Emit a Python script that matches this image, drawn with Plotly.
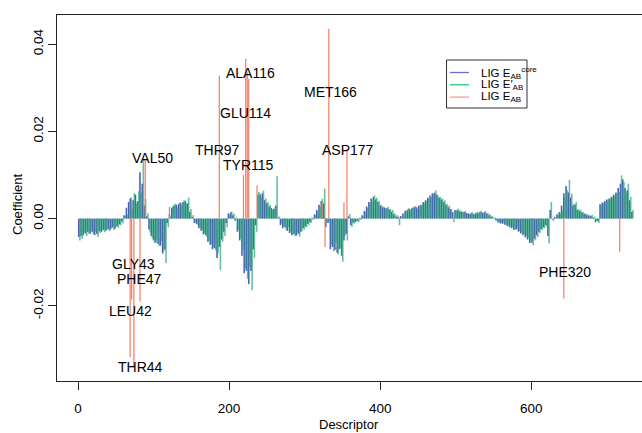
import numpy as np
import plotly.graph_objects as go

# descriptor positions of the sampled bars (every 3rd descriptor)
descriptors = list(range(1, 734, 3))

# coefficients in units of 1e-3
core_milli = [
    -4.2, -4.0, -3.8, -3.4, -3.0, -3.4, -3.1, -3.8, -3.5, -2.9,
    -3.0, -2.6, -2.8, -2.4, -2.5, -2.0, -2.3, -1.7, -1.3, -0.6,
    0.8, 2.5, 3.8, 4.8, 4.2, 5.5, 4.0, 10.6, 8.0, 3.0,
    0.5, -2.5, -4.0, -5.0, -5.5, -5.8, -6.2, -8.0, -7.0, -1.0,
    1.0, 2.5, 3.0, 3.2, 3.3, 3.6, 3.8, 4.0, 3.5, 1.5,
    0.4, -1.0, -1.2, -2.2, -2.8, -3.6, -3.8, -5.3, -6.0, -7.0,
    -6.8, -9.0, -6.5, -4.8, -3.0, -1.0, 1.2, 1.4, 0.8, -0.5,
    -3.0, -5.0, -8.5, -12.5, -12.0, -15.0, -12.0, -7.0, -1.5, 5.5,
    5.6, 5.8, 4.2, 3.5, 2.8, 2.4, 2.2, 3.0, 0.2, -1.5,
    -2.2, -2.0, -2.8, -3.3, -3.8, -3.6, -3.9, -3.5, -3.0, -2.2,
    -1.8, -1.2, -0.8, 0.2, 1.0, 2.0, 3.2, 4.0, 3.5, -2.0,
    -1.0, -7.0, -6.5, -7.2, -7.8, -7.0, -8.5, -5.0, -3.5, 0.5,
    -1.5, -0.9, -0.8, -0.5, 0.2, 0.8, 1.8, 2.8, 3.8, 4.6,
    5.0, 4.4, 3.8, 3.0, 2.6, 2.5, 2.4, 2.1, 1.6, 1.0,
    0.5, 0.4, 0.6, 1.2, 1.8, 2.0, 2.2, 2.4, 2.6, 2.6,
    3.0, 3.2, 3.8, 4.2, 4.8, 5.3, 5.8, 5.9, 5.5, 4.8,
    4.4, 3.8, 3.2, 2.6, 2.2, 1.5, 2.0, 2.0, 1.7, 1.5,
    1.5, 1.3, 1.2, 1.2, 1.1, 1.2, 1.4, 1.5, 1.4, 1.5,
    1.1, 0.8, 0.4, 0.1, -0.4, -0.9, -1.1, -1.2, -1.4, -1.7,
    -2.0, -2.2, -2.6, -2.5, -3.0, -3.4, -3.8, -4.3, -4.8, -5.6,
    -5.5, -4.6, -3.8, -3.0, -2.4, -2.0, -1.5, -4.0, 2.0, -0.2,
    0.4, 1.0, 1.5, 3.0, 5.8, 7.5, 6.0, 4.8, 3.0, 3.2,
    2.0, 1.7, 1.4, 1.1, 0.9, 0.7, 0.6, 0.2, -0.8, -0.6,
    3.3, 3.7, 4.0, 4.4, 4.6, 5.0, 5.5, 6.0, 7.0, 8.0,
    9.0, 7.0, 6.5, 4.2, 1.5,
]

prime_milli = [
    -5.0, -4.6, -3.2, -4.0, -3.5, -2.8, -3.6, -3.0, -4.2, -3.3,
    -2.7, -3.1, -2.5, -2.9, -2.2, -2.6, -1.9, -2.1, -1.5, -1.1,
    0.6, 1.0, 4.5, 2.2, 5.8, 3.5, 6.3, 6.0, 13.4, 4.5,
    1.2, -3.2, -4.5, -5.6, -4.8, -6.3, -5.2, -7.5, -10.2, -2.0,
    0.5, 2.8, 3.4, 2.6, 3.7, 3.0, 4.2, 3.5, 4.8, 2.2,
    0.8, -0.8, -1.5, -2.0, -2.5, -3.3, -4.2, -5.0, -5.8, -6.6,
    -7.3, -8.0, -11.8, -5.3, -4.0, -2.0, 0.8, 1.6, 1.2, 0.3,
    -2.5, -4.5, -7.0, -11.5, -13.8, -11.0, -16.4, -9.0, -3.0, 6.1,
    5.0, 6.4, 4.6, 3.8, 3.2, 2.0, 2.6, 9.7, 0.5, -1.2,
    -1.8, -2.5, -2.0, -3.0, -3.5, -4.0, -3.2, -4.1, -2.8, -2.5,
    -2.0, -1.5, -1.0, -0.3, 0.8, 1.5, 2.7, 4.6, 6.9, -1.0,
    -0.5, -6.0, -7.5, -5.5, -8.2, -6.8, -9.9, -4.0, -5.0, 1.1,
    -1.9, -1.2, -0.6, -0.8, -0.3, 0.5, 1.5, 2.4, 3.4, 4.0,
    5.3, 4.8, 4.1, 3.2, 2.8, 2.4, 2.7, 2.2, 2.0, 1.2,
    0.8, -1.5, 0.3, 0.8, 1.5, 2.4, 1.8, 2.6, 2.9, 2.2,
    2.8, 3.0, 3.5, 4.0, 4.5, 5.0, 5.6, 6.5, 5.2, 5.0,
    4.6, 4.2, 3.4, 3.0, 2.0, -0.8, 1.8, 2.3, 1.9, 1.6,
    1.8, 1.2, 1.0, 1.5, 0.9, 1.4, 1.0, 1.8, 1.2, 1.7,
    1.3, 1.0, 0.6, 0.3, -0.5, -0.7, -1.0, -0.8, -1.3, -1.5,
    -1.8, -2.0, -2.4, -2.2, -2.8, -3.1, -3.5, -3.9, -4.5, -5.2,
    -6.1, -5.0, -4.2, -3.3, -2.6, -2.2, -1.8, -5.7, 3.8, -0.5,
    0.2, 0.8, 1.2, 2.0, 5.0, 6.5, 8.9, 5.7, 3.4, 3.8,
    2.2, 2.0, 1.5, 1.2, 1.0, 0.8, 0.9, 0.5, -0.5, -1.0,
    3.1, 3.5, 3.9, 4.2, 4.5, 4.8, 5.2, 5.8, 6.1, 9.9,
    8.4, 6.0, 8.0, 5.0, 2.0,
]

# LIG E_AB: only a few non-zero descriptors
eab_desc = [69, 71, 74, 82, 89, 121, 187, 219, 222, 224, 226, 237,
            323, 327, 332, 352, 356, 643, 717]
eab_coef = [-0.0317, -0.0185, -0.0341, -0.0190, 0.0135, 0.0027, 0.0328,
            0.0100, 0.0366, 0.0335, 0.0320, 0.0076, 0.0035, -0.0065,
            0.0435, 0.0037, 0.0160, -0.0183, -0.0076]

residue_labels = ["VAL50", "GLY43", "PHE47", "LEU42", "THR44", "THR97",
                  "ALA116", "GLU114", "TYR115", "MET166", "ASP177", "PHE320"]
label_desc = [99, 73, 82, 69, 83, 185, 228, 222, 225, 334, 357, 645]
label_coef = [0.0138, -0.0105, -0.0139, -0.0212, -0.0341, 0.0157,
              0.0333, 0.0243, 0.0124, 0.0290, 0.0157, -0.0123]

series_names = ["LIG E<sub>AB</sub><sup>core</sup>", "LIG E\u2032<sub>AB</sub>", "LIG E<sub>AB</sub>"]
series_colors = ["#4d62b4", "#27a877", "#f47c62"]
legend_colors = ["#6e6ecf", "#2fc07a", "#f7a08a"]

x_ticks = [0, 200, 400, 600]
y_ticks = [-0.02, 0.0, 0.02, 0.04]
y_ticktext = ["-0.02", "0.00", "0.02", "0.04"]

W, H = 642, 433
ml, mr, mt, mb = 57, 0, 15, 52
pw, ph = W - ml - mr, H - mt - mb


def px2paper(xp, yp):
    return (xp - ml) / pw, (H - mb - yp) / ph


def spikes(xs, ys):
    px, py = [], []
    for x, y in zip(xs, ys):
        px += [x, x, None]
        py += [0, y, None]
    return px, py


core_vals = [v * 1e-3 for v in core_milli]
prime_vals = [v * 1e-3 for v in prime_milli]

fig = go.Figure()
bx, by = spikes(descriptors, core_vals)
fig.add_trace(go.Scatter(x=bx, y=by, mode="lines", line=dict(color=series_colors[0], width=1.6),
                         name=series_names[0], showlegend=False))
gx, gy = spikes([d + 1.5 for d in descriptors], prime_vals)
fig.add_trace(go.Scatter(x=gx, y=gy, mode="lines", line=dict(color=series_colors[1], width=1.6),
                         opacity=0.7, name=series_names[1], showlegend=False))
rx, ry = spikes(eab_desc, eab_coef)
fig.add_trace(go.Scatter(x=rx, y=ry, mode="lines", line=dict(color=series_colors[2], width=1.2),
                         name=series_names[2], showlegend=False))

for lab, xd, yd in zip(residue_labels, label_desc, label_coef):
    fig.add_annotation(x=xd, y=yd, text=lab, showarrow=False,
                       font=dict(size=14, color="black"))

# axis titles
tx, ty = px2paper(17, 204)
fig.add_annotation(x=tx, y=ty, xref="paper", yref="paper", text="Coefficient",
                   showarrow=False, textangle=-90, xanchor="center", yanchor="middle",
                   font=dict(size=13, color="black"))
tx, ty = px2paper(349, 425)
fig.add_annotation(x=tx, y=ty, xref="paper", yref="paper", text="Descriptor",
                   showarrow=False, xanchor="center", yanchor="middle",
                   font=dict(size=13, color="black"))

# legend drawn by hand (box, line samples, labels)
bx0, by0 = px2paper(446.5, 60)
bx1, by1 = px2paper(527, 108)
fig.add_shape(type="rect", xref="paper", yref="paper", x0=bx0, y0=by1, x1=bx1, y1=by0,
              line=dict(color="#333", width=1), fillcolor="white", layer="above")
for i, (nm, col) in enumerate(zip(series_names, legend_colors)):
    yp = 72.5 + 12.3 * i
    lx0, ly = px2paper(450, yp)
    lx1, _ = px2paper(469, yp)
    fig.add_shape(type="line", xref="paper", yref="paper", x0=lx0, x1=lx1, y0=ly, y1=ly,
                  line=dict(color=col, width=1.3), layer="above")
    tx, _ = px2paper(479, yp)
    fig.add_annotation(x=tx, y=ly, xref="paper", yref="paper", text=nm, showarrow=False,
                       xanchor="left", yanchor="middle", font=dict(size=11.5, color="black"))

fig.update_layout(
    width=W, height=H,
    margin=dict(l=ml, r=mr, t=mt, b=mb, pad=0),
    paper_bgcolor="white", plot_bgcolor="white",
    font=dict(family="Liberation Sans, Arial, sans-serif", color="black", size=13.5),
    showlegend=False,
    xaxis=dict(range=[-27.8, 746.5], tickvals=x_ticks, ticks="outside", ticklen=8,
               tickcolor="#222", showgrid=False, zeroline=False, showline=True,
               linecolor="#222", linewidth=1, mirror=True, ticklabelstandoff=7),
    yaxis=dict(range=[-0.0372, 0.04665], tickvals=y_ticks, ticktext=y_ticktext,
               ticks="outside", ticklen=8, tickcolor="#222", tickangle=-90,
               showgrid=False, zeroline=False, showline=True, linecolor="#222",
               linewidth=1, mirror=False),
)

fig.write_html("out.html")
